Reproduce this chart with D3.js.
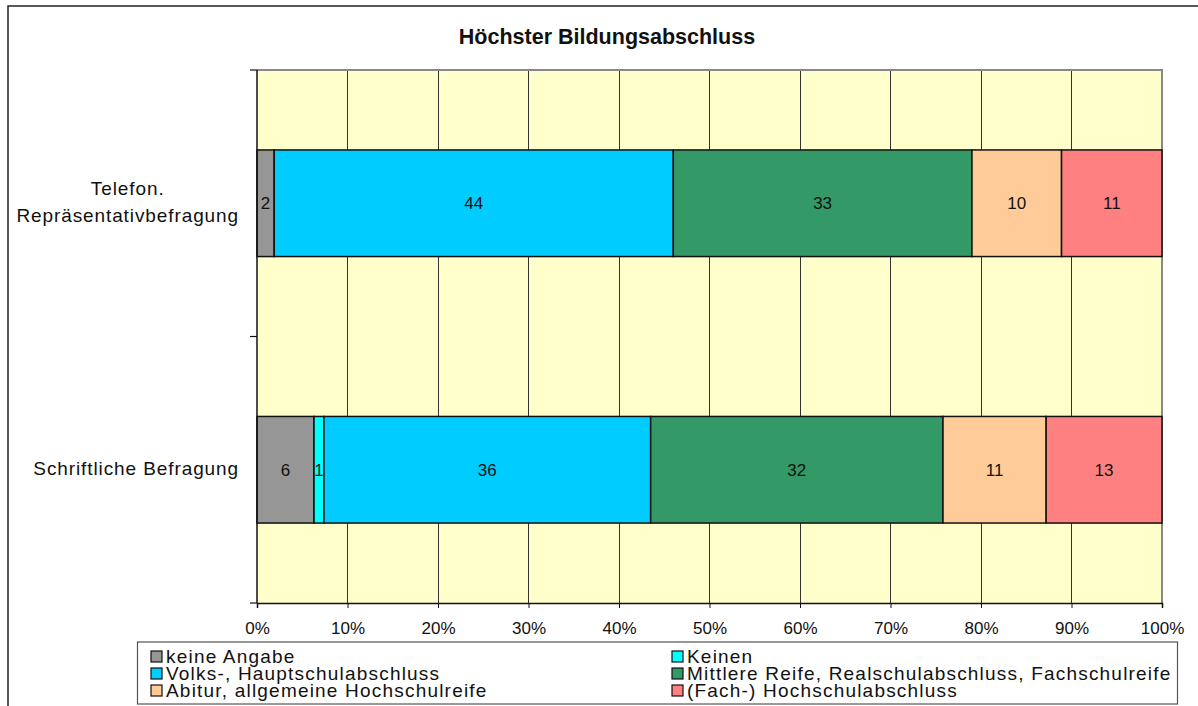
<!DOCTYPE html>
<html><head><meta charset="utf-8">
<script src="https://cdn.jsdelivr.net/npm/d3@7"></script>
<style>body{margin:0;background:#fff;}svg{display:block;font-family:"Liberation Sans",Arial,sans-serif;}</style>
</head><body>
<svg id="c" width="1198" height="706"></svg>
<script>
const title = "Höchster Bildungsabschluss";
const categories = [["Telefon.", "Repräsentativbefragung"], ["Schriftliche Befragung"]];
const seriesNames = ["keine Angabe", "Keinen", "Volks-, Hauptschulabschluss", "Mittlere Reife, Realschulabschluss, Fachschulreife", "Abitur, allgemeine Hochschulreife", "(Fach-) Hochschulabschluss"];
const seriesColors = ["#969696", "#00FFFF", "#00CCFF", "#339966", "#FFCC99", "#FF8080"];
const valuesTelefon = [1.9, 0, 44.1, 33.0, 9.9, 11.1];
const valuesSchriftlich = [6.3, 1.1, 36.1, 32.3, 11.4, 12.8];
const tickValues = [0, 0.1, 0.2, 0.3, 0.4, 0.5, 0.6, 0.7, 0.8, 0.9, 1.0];

const svg = d3.select("#c");
const L = 257, R = 1162, T = 70, B = 603;

svg.append("rect").attr("x", 8).attr("y", 6).attr("width", 1200).attr("height", 710)
  .attr("fill", "#fff").attr("stroke", "#222").attr("stroke-width", 1.5);

svg.append("text").attr("x", 607).attr("y", 44).attr("text-anchor", "middle")
  .attr("font-weight", "bold").attr("font-size", 21.5).attr("fill", "#111").text(title);

const x = d3.scaleLinear().domain([0, 1]).range([L, R]);
const y = d3.scaleBand().domain(d3.range(categories.length)).range([T, B]).paddingInner(0.6).paddingOuter(0.3);

svg.append("rect").attr("x", L).attr("y", T).attr("width", R - L).attr("height", B - T).attr("fill", "#FFFFCC");
svg.append("g").selectAll("line").data(tickValues.slice(1, -1)).join("line")
  .attr("x1", d => x(d)).attr("x2", d => x(d)).attr("y1", T).attr("y2", B)
  .attr("stroke", "#333").attr("stroke-width", 1).attr("shape-rendering", "crispEdges");
svg.append("path").attr("d", `M${L},${T}H${R}V${B}`).attr("fill", "none").attr("stroke", "#888").attr("stroke-width", 2);

const allValues = [valuesTelefon, valuesSchriftlich];
allValues.forEach((vals, ci) => {
  const total = d3.sum(vals);
  let cum = 0;
  vals.forEach((v, si) => {
    const x0 = cum / total; cum += v; const x1 = cum / total;
    if (v <= 0) return;
    svg.append("rect").attr("x", x(x0)).attr("y", y(ci)).attr("width", x(x1) - x(x0)).attr("height", y.bandwidth())
      .attr("fill", seriesColors[si]).attr("stroke", "#111").attr("stroke-width", 1.5);
    svg.append("text").attr("x", (x(x0) + x(x1)) / 2).attr("y", y(ci) + y.bandwidth() / 2 + 6)
      .attr("text-anchor", "middle").attr("font-size", 17).attr("fill", "#111").text(Math.round(v));
  });
});

const xa = svg.append("g").attr("transform", `translate(0,${B})`)
  .call(d3.axisBottom(x).tickValues(tickValues).tickFormat(d3.format(".0%")).tickSizeOuter(0).tickSize(5).tickPadding(14));
xa.select(".domain").attr("stroke", "#111").attr("stroke-width", 1.5);
xa.selectAll(".tick line").attr("stroke", "#111");
xa.selectAll("text").attr("font-size", 17).attr("fill", "#111").attr("font-family", "Liberation Sans, Arial, sans-serif");

svg.append("line").attr("x1", L).attr("x2", L).attr("y1", T).attr("y2", B).attr("stroke", "#111").attr("stroke-width", 1.5);
const yTicks = [T, (T + B) / 2, B];
svg.append("g").selectAll("line").data(yTicks).join("line")
  .attr("x1", L - 7).attr("x2", L).attr("y1", d => d).attr("y2", d => d).attr("stroke", "#111").attr("stroke-width", 1.2);

categories.forEach((lines, ci) => {
  const cy = y(ci) + y.bandwidth() / 2;
  const g = svg.append("g");
  const lh = 27;
  const texts = lines.map((ln, i) => g.append("text").attr("font-size", 19).attr("letter-spacing", 0.9).attr("fill", "#111")
    .attr("y", cy + 5.5 + (i - (lines.length - 1) / 2) * lh).text(ln));
  const maxW = d3.max(texts, t => t.node().getComputedTextLength());
  texts.forEach(t => t.attr("text-anchor", "middle").attr("x", 239 - maxW / 2));
});

svg.append("rect").attr("x", 137.5).attr("y", 642).attr("width", 1040).attr("height", 62)
  .attr("fill", "#fff").attr("stroke", "#555").attr("stroke-width", 1.2);
seriesNames.forEach((name, i) => {
  const col = i % 2, row = Math.floor(i / 2);
  const lx = col === 0 ? 151 : 672;
  const ly = 663 + row * 17;
  svg.append("rect").attr("x", lx).attr("y", ly - 12).attr("width", 11).attr("height", 11)
    .attr("fill", seriesColors[i]).attr("stroke", "#111").attr("stroke-width", 1.2);
  svg.append("text").attr("x", lx + 15).attr("y", ly).attr("font-size", 19).attr("letter-spacing", 1.2).attr("fill", "#111").text(name);
});
</script>
</body></html>
